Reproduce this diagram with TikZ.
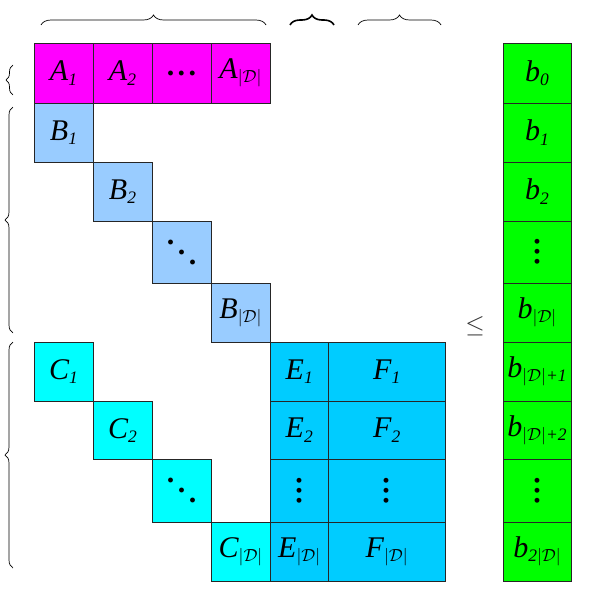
\RequirePackage{fix-cm}
\documentclass[tikz,border=0pt]{standalone}
\usepackage{fontspec}
\setmainfont{Liberation Serif}
\usepackage{graphicx}
\usetikzlibrary{decorations.pathreplacing}
\definecolor{cA}{RGB}{255,0,255}
\definecolor{cB}{RGB}{153,204,255}
\definecolor{cC}{RGB}{0,255,255}
\definecolor{cE}{RGB}{0,204,255}
\definecolor{cG}{RGB}{0,255,0}
\newcommand{\lb}[2]{#1\raisebox{-0.14em}{\fontsize{17.5}{17.5}\selectfont #2}}
\newcommand{\DD}{$|\mathcal{D}|$}
\newcommand{\dts}[1]{{\upshape\bfseries .\hspace{#1}.\hspace{#1}.}}
\newcommand{\hdt}{\dts{3.5pt}}
\newcommand{\vdt}{\rotatebox{90}{\dts{2.5pt}}}
\newcommand{\ddt}{{\upshape\bfseries\raisebox{20pt}{.}\hspace{3.5pt}\raisebox{10pt}{.}\hspace{3.5pt}.}}
\newcommand{\cellat}[7]{\node[cell, fill=#6, minimum width={(#4-#2)*1pt}, minimum height={(#5-#3)*1pt}] (#1) at ({(#2+#4)/2},{(#3+#5)/2}) {#7};}
\tikzset{
  cell/.style={draw=black!85, line width=0.8pt, inner sep=0pt, outer sep=0pt, anchor=center, font=\fontsize{30}{30}\selectfont\itshape},
  brc/.style={decorate, decoration={brace, amplitude=#1}, line width=0.7pt},
  brc/.default=8pt
}
\begin{document}
\begin{tikzpicture}[x=1pt,y=-1pt]
\useasboundingbox (0,0) rectangle (594,594);
% A row
\cellat{a1}{34}{43}{93}{103}{cA}{\lb{A}{1}}
\cellat{a2}{93}{43}{152}{103}{cA}{\lb{A}{2}}
\cellat{a3}{152}{43}{211}{103}{cA}{\hdt}
\cellat{a4}{211}{43}{270}{103}{cA}{\lb{A}{\DD}}
% B diagonal
\cellat{b1}{34}{103}{93}{162}{cB}{\lb{B}{1}}
\cellat{b2}{93}{162}{152}{221}{cB}{\lb{B}{2}}
\cellat{b3}{152}{221}{211}{283}{cB}{\ddt}
\cellat{b4}{211}{283}{270}{342}{cB}{\lb{B}{\DD}}
% C diagonal
\cellat{c1}{34}{342}{93}{401}{cC}{\lb{C}{1}}
\cellat{c2}{93}{401}{152}{459.5}{cC}{\lb{C}{2}}
\cellat{c3}{152}{459.5}{211}{522}{cC}{\ddt}
\cellat{c4}{211}{522}{270}{581}{cC}{\lb{C}{\DD}}
% E column
\cellat{e1}{270}{342}{328.5}{401}{cE}{\lb{E}{1}}
\cellat{e2}{270}{401}{328.5}{459.5}{cE}{\lb{E}{2}}
\cellat{e3}{270}{459.5}{328.5}{522}{cE}{\vdt}
\cellat{e4}{270}{522}{328.5}{581}{cE}{\lb{E}{\DD}}
% F column
\cellat{f1}{328.5}{342}{445}{401}{cE}{\lb{F}{1}}
\cellat{f2}{328.5}{401}{445}{459.5}{cE}{\lb{F}{2}}
\cellat{f3}{328.5}{459.5}{445}{522}{cE}{\vdt}
\cellat{f4}{328.5}{522}{445}{581}{cE}{\lb{F}{\DD}}
% b column
\cellat{g0}{503}{43}{571}{103}{cG}{\lb{b}{0}}
\cellat{g1}{503}{103}{571}{162}{cG}{\lb{b}{1}}
\cellat{g2}{503}{162}{571}{221}{cG}{\lb{b}{2}}
\cellat{g3}{503}{221}{571}{283}{cG}{\vdt}
\cellat{g4}{503}{283}{571}{342}{cG}{\lb{b}{\DD}}
\cellat{g5}{503}{342}{571}{401}{cG}{\lb{b}{\DD+1}}
\cellat{g6}{503}{401}{571}{459.5}{cG}{\lb{b}{\DD+2}}
\cellat{g7}{503}{459.5}{571}{522}{cG}{\vdt}
\cellat{g8}{503}{522}{571}{581}{cG}{\lb{b}{2\DD}}
% relation
\node[font=\fontsize{25}{25}\selectfont, inner sep=0pt, text=black!80] (le) at (475,326) {$\leq$};
% top braces
\coordinate (t1a) at (41,25); \coordinate (t1b) at (266,25);
\coordinate (t2a) at (290,25); \coordinate (t2b) at (334,25);
\coordinate (t3a) at (358,25); \coordinate (t3b) at (441,25);
\draw[brc=10pt] (t1a) -- (t1b);
\draw[brc=10pt, line width=1.6pt] (t2a) -- (t2b);
\draw[brc=10pt] (t3a) -- (t3b);
% left braces
\coordinate (l1a) at (13,95); \coordinate (l1b) at (13,65);
\coordinate (l2a) at (13,333); \coordinate (l2b) at (13,107);
\coordinate (l3a) at (13,568); \coordinate (l3b) at (13,342);
\draw[brc=7pt] (l1a) -- (l1b);
\draw[brc=8pt] (l2a) -- (l2b);
\draw[brc=8pt] (l3a) -- (l3b);
\end{tikzpicture}
\end{document}
